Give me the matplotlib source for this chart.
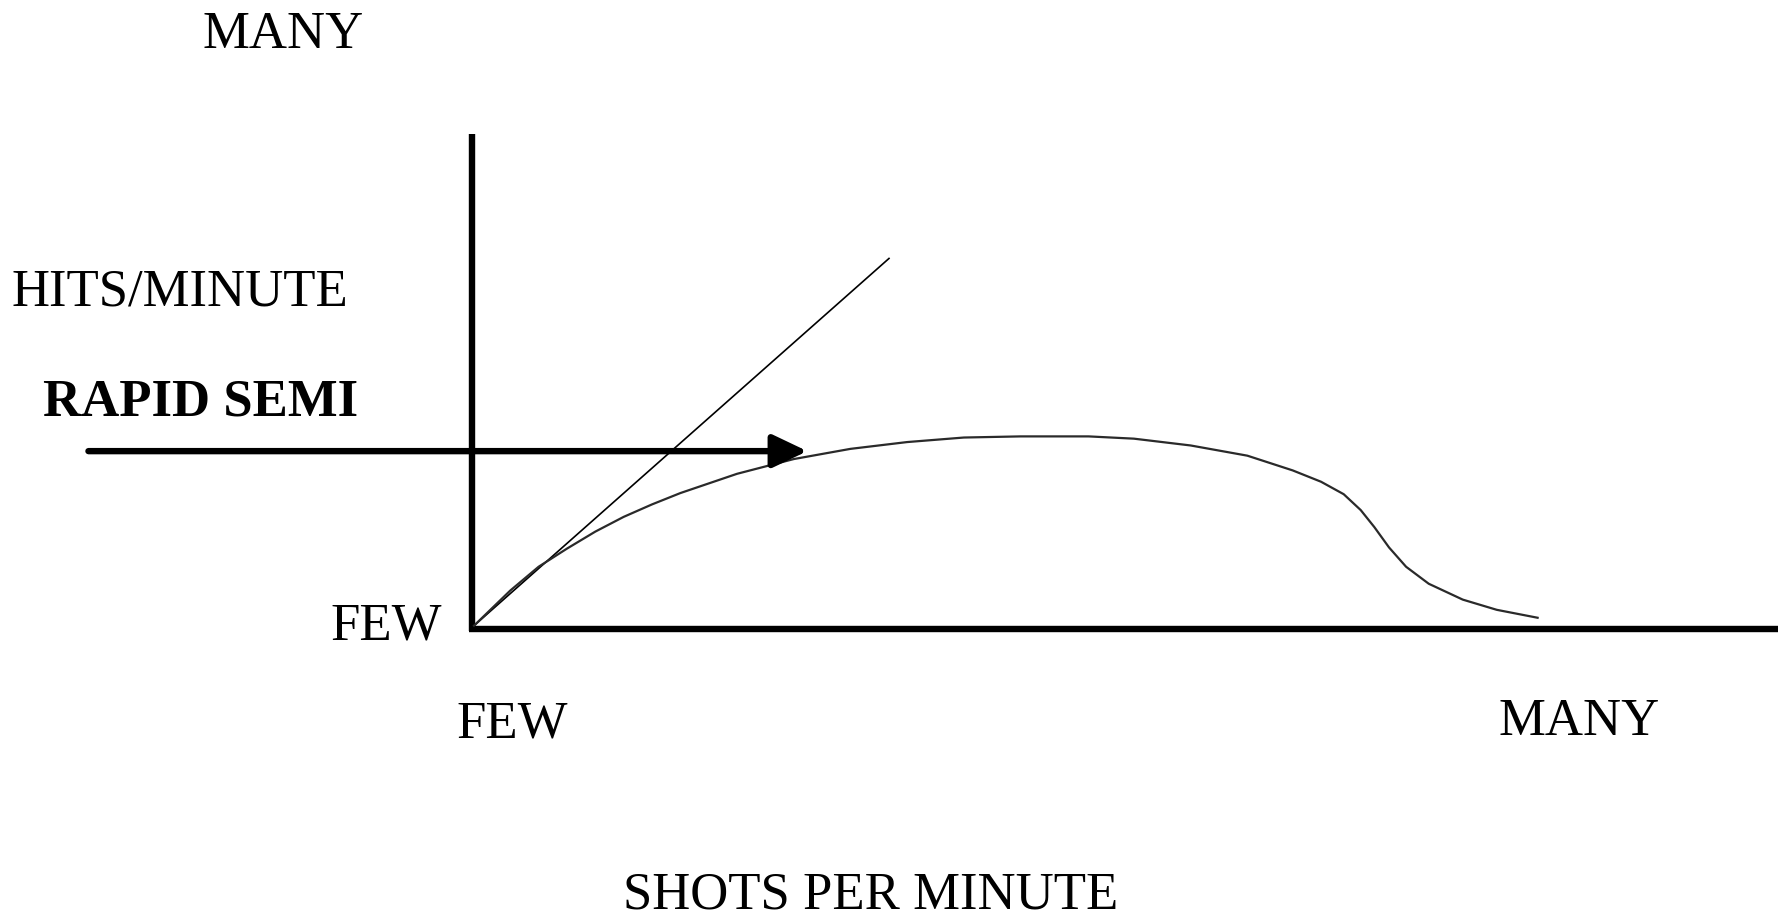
import numpy as np
import matplotlib
matplotlib.use("Agg")
import matplotlib.pyplot as plt

# chart drawn in a canvas of 1568 x 809 units (y downwards)
W, H = 1568, 809

# axes lines
y_axis_x = [416, 416]
y_axis_y = [118, 557]
x_axis_x = [414, 1568]
x_axis_y = [555, 555]

# straight "ideal" line
ideal_x = [418, 784]
ideal_y = [552, 228]

# hits/minute curve
curve_x = [418, 450, 475, 500, 525, 550, 575, 600, 650, 700, 750, 800, 850, 900, 960,
           1000, 1050, 1100, 1140, 1165, 1185, 1200, 1212, 1225, 1240, 1260, 1290, 1320, 1356]
curve_y = [552, 521, 500, 484, 469, 456, 445, 435, 418, 405, 396, 390, 386, 385, 385,
           387, 393, 402, 415, 425, 436, 450, 465, 483, 500, 515, 529, 538, 545]

# rapid semi arrow
arrow_x = [78, 712]
arrow_y = [398, 398]

labels = {
    "MANY_y": ("MANY", 250, 31),
    "HITS": ("HITS/MINUTE", 10, 258),
    "FEW_y": ("FEW", 390, 553),
    "FEW_x": ("FEW", 452, 639),
    "MANY_x": ("MANY", 1393, 637),
    "xlabel": ("SHOTS PER MINUTE", 768, 790),
}

plt.rcParams['font.family'] = ['Liberation Serif', 'DejaVu Serif']

fig = plt.figure(figsize=(17.78, 9.17), dpi=100)
ax = fig.add_axes([0, 0, 1, 1])
ax.set_xlim(0, W)
ax.set_ylim(H, 0)
ax.axis('off')

ax.plot(y_axis_x, y_axis_y, color='black', lw=4.6, solid_capstyle='butt')
ax.plot(x_axis_x, x_axis_y, color='black', lw=4.6, solid_capstyle='butt')
ax.plot(ideal_x, ideal_y, color='black', lw=1.2)
ax.plot(curve_x, curve_y, color='#2a2a2a', lw=1.6)

ax.annotate('', xy=(arrow_x[1], arrow_y[1]), xytext=(arrow_x[0], arrow_y[0]),
            arrowprops=dict(arrowstyle='-|>,head_length=2.1,head_width=1.0',
                            color='black', lw=4.6, shrinkA=0, shrinkB=0,
                            mutation_scale=10))

fs = 38
t, x, y = labels["MANY_y"]
ax.text(x, y, t, fontsize=fs, ha='center', va='center')
t, x, y = labels["HITS"]
ax.text(x, y, t, fontsize=fs, ha='left', va='center')
ax.text(38, 355, "RAPID SEMI", fontsize=fs, fontweight='bold', ha='left', va='center')
t, x, y = labels["FEW_y"]
ax.text(x, y, t, fontsize=fs, ha='right', va='center')
t, x, y = labels["FEW_x"]
ax.text(x, y, t, fontsize=fs, ha='center', va='center')
t, x, y = labels["MANY_x"]
ax.text(x, y, t, fontsize=fs, ha='center', va='center')
t, x, y = labels["xlabel"]
ax.text(x, y, t, fontsize=fs, ha='center', va='center')

fig.savefig('out.png', dpi=100, facecolor='white')
